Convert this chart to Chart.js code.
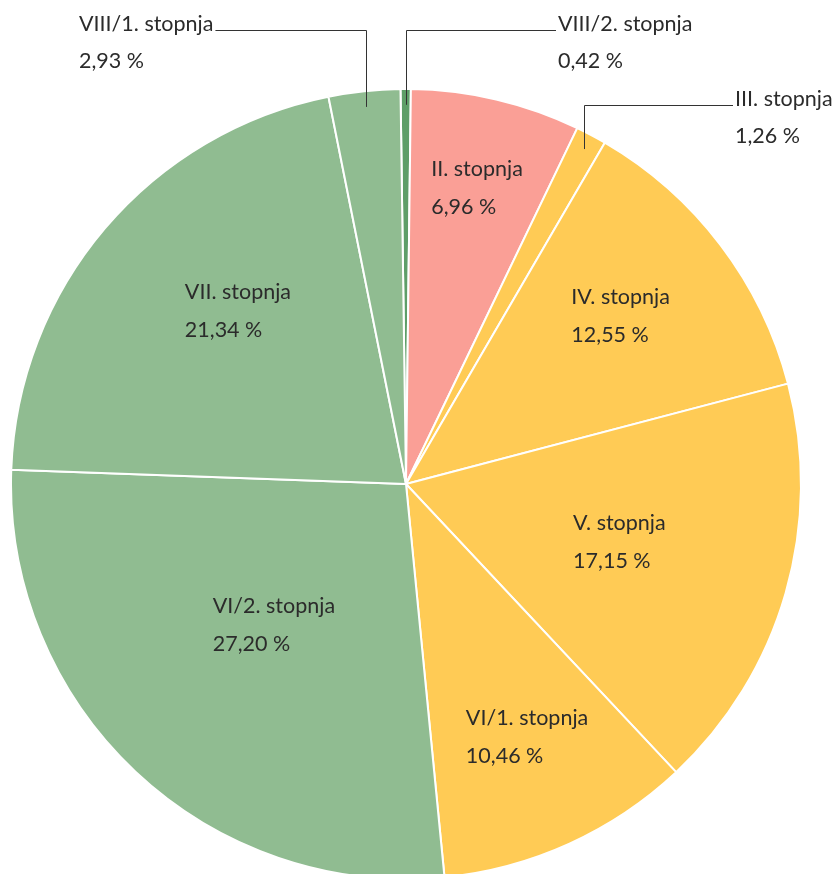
<!DOCTYPE html>
<html>
<head>
<meta charset="utf-8">
<script src="https://cdn.jsdelivr.net/npm/chart.js@4"></script>
<style>
  html, body { margin: 0; padding: 0; background: #fff; overflow: hidden; }
  #wrap { width: 838px; height: 884px; }
</style>
</head>
<body>
<div id="wrap"><canvas id="pie" width="838" height="884"></canvas></div>
<script>
// Data (clockwise from 12 o'clock)
const labels = ['VIII/2. stopnja', 'II. stopnja', 'III. stopnja', 'IV. stopnja', 'V. stopnja',
  'VI/1. stopnja', 'VI/2. stopnja', 'VII. stopnja', 'VIII/1. stopnja'];
const values = [0.42, 6.96, 1.26, 12.55, 17.15, 10.46, 27.20, 21.34, 2.93];
const colors = ['#5e9e68', '#fa9f96', '#ffcb55', '#ffcb55', '#ffcb55',
  '#ffcb55', '#90bc91', '#90bc91', '#90bc91'];

// label layout: inside labels -> radial fraction + angle shift (deg)
// outside labels -> text x, elbow y of the leader line
const labelLayout = [
  { out: true, textX: 558, elbowY: 30 },
  { frac: 0.77, shift: 0.3 },
  { out: true, textX: 735, elbowY: 105 },
  { frac: 0.69, shift: -0.8 },
  { frac: 0.56, shift: -0.8 },
  { frac: 0.71, shift: -1.2 },
  { frac: 0.49, shift: -0.2 },
  { frac: 0.61, shift: 5.4 },
  { out: true, textX: 79, elbowY: 30 }
];

const FONT = '21.5px Lato, "Open Sans", sans-serif';
const TEXT_COLOR = '#2b2b2b';

function fmt(v) {
  return v.toFixed(2).replace('.', ',') + ' %';
}

const pieLabels = {
  id: 'pieLabels',
  afterDraw(chart) {
    const ctx = chart.ctx;
    const arcs = chart.getDatasetMeta(0).data;
    ctx.save();
    ctx.font = FONT;
    ctx.fillStyle = TEXT_COLOR;
    ctx.textBaseline = 'alphabetic';
    ctx.textAlign = 'left';
    arcs.forEach((arc, i) => {
      const p = arc.getProps(['x', 'y', 'startAngle', 'endAngle', 'outerRadius'], true);
      const lay = labelLayout[i];
      const l1 = labels[i];
      const l2 = fmt(values[i]);
      const w1 = ctx.measureText(l1).width;
      const w2 = ctx.measureText(l2).width;
      if (lay.out) {
        const mid = (p.startAngle + p.endAngle) / 2;
        const ax = p.x + Math.cos(mid) * p.outerRadius * 0.96;
        const ay = p.y + Math.sin(mid) * p.outerRadius * 0.96;
        const endX = lay.textX < ax ? lay.textX + w1 + 2 : lay.textX - 2;
        ctx.strokeStyle = '#333';
        ctx.lineWidth = 1;
        ctx.beginPath();
        ctx.moveTo(Math.round(ax) + 0.5, ay);
        ctx.lineTo(Math.round(ax) + 0.5, lay.elbowY + 0.5);
        ctx.lineTo(endX, lay.elbowY + 0.5);
        ctx.stroke();
        ctx.fillText(l1, lay.textX, lay.elbowY + 1);
        ctx.fillText(l2, lay.textX, lay.elbowY + 38);
      } else {
        const mid = (p.startAngle + p.endAngle) / 2 + lay.shift * Math.PI / 180;
        const cx = p.x + Math.cos(mid) * p.outerRadius * lay.frac;
        const cy = p.y + Math.sin(mid) * p.outerRadius * lay.frac;
        const left = cx - Math.max(w1, w2) / 2;
        ctx.fillText(l1, left, cy - 12);
        ctx.fillText(l2, left, cy + 26);
      }
    });
    ctx.restore();
  }
};

new Chart(document.getElementById('pie'), {
  type: 'pie',
  data: {
    labels: labels,
    datasets: [{
      data: values,
      backgroundColor: colors,
      borderColor: '#ffffff',
      borderWidth: 2,
      hoverOffset: 0
    }]
  },
  options: {
    responsive: false,
    animation: false,
    events: [],
    rotation: -0.8,
    layout: { padding: { left: 10, right: 36, top: 88, bottom: 4 } },
    plugins: {
      legend: { display: false },
      tooltip: { enabled: false }
    }
  },
  plugins: [pieLabels]
});
</script>
</body>
</html>
